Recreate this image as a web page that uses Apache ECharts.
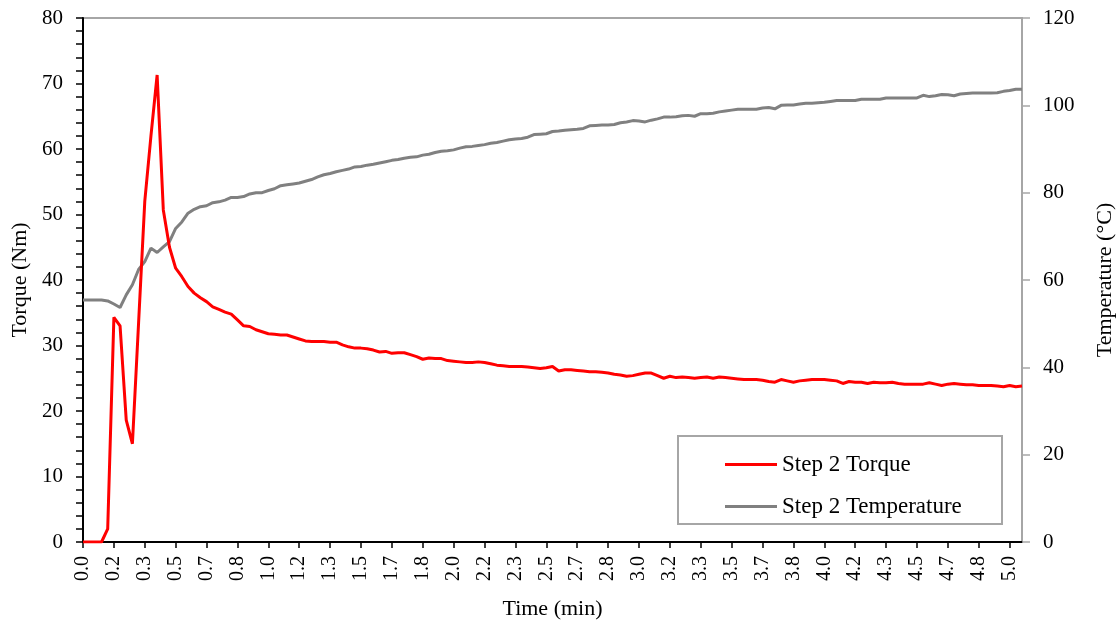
<!DOCTYPE html>
<html>
<head>
<meta charset="utf-8">
<script src="https://cdn.jsdelivr.net/npm/echarts@6/dist/echarts.min.js"></script>
<style>html,body{margin:0;padding:0;background:#fff;}#c{width:1119px;height:623px;}</style>
</head>
<body>
<div id="c"></div>
<script>
// Sample times (every 2 s), labelled in minutes with one decimal
const timeLabels = Array.from({length: 153}, (_, i) => (i / 30).toFixed(1));

const torque = [
  0, 0, 0, 0, 2, 34.3, 33.0, 18.6, 15.0, 33.5,
  52, 62, 71.3, 50.7, 45, 41.8, 40.5, 39.0, 38.0, 37.3,
  36.7, 35.9, 35.5, 35.1, 34.8, 33.9, 33.0, 32.9, 32.4, 32.1,
  31.8, 31.7, 31.6, 31.6, 31.3, 31.0, 30.7, 30.6, 30.6, 30.6,
  30.5, 30.5, 30.1, 29.8, 29.6, 29.6, 29.5, 29.3, 29.0, 29.1,
  28.8, 28.9, 28.9, 28.6, 28.3, 27.9, 28.1, 28.0, 28.0, 27.7,
  27.6, 27.5, 27.4, 27.4, 27.5, 27.4, 27.2, 27.0, 26.9, 26.8,
  26.8, 26.8, 26.7, 26.6, 26.5, 26.6, 26.8, 26.1, 26.3, 26.3,
  26.2, 26.1, 26.0, 26.0, 25.9, 25.8, 25.6, 25.5, 25.3, 25.4,
  25.6, 25.8, 25.8, 25.4, 25.0, 25.3, 25.1, 25.2, 25.1, 25.0,
  25.1, 25.2, 25.0, 25.2, 25.1, 25.0, 24.9, 24.8, 24.8, 24.8,
  24.7, 24.5, 24.4, 24.8, 24.6, 24.4, 24.6, 24.7, 24.8, 24.8,
  24.8, 24.7, 24.6, 24.2, 24.5, 24.4, 24.4, 24.2, 24.4, 24.3,
  24.3, 24.4, 24.2, 24.1, 24.1, 24.1, 24.1, 24.3, 24.1, 23.9,
  24.1, 24.2, 24.1, 24.0, 24.0, 23.9, 23.9, 23.9, 23.8, 23.7,
  23.9, 23.7, 23.8
];

const temperature = [
  55.4, 55.4, 55.4, 55.4, 55.2, 54.5, 53.7, 56.6, 58.9, 62.4,
  64.2, 67.3, 66.3, 67.6, 68.8, 71.8, 73.3, 75.3, 76.2, 76.8,
  77.0, 77.7, 77.9, 78.3, 78.9, 78.9, 79.1, 79.7, 80.0, 80.0,
  80.5, 80.9, 81.6, 81.8, 82.0, 82.2, 82.6, 83.0, 83.6, 84.1,
  84.4, 84.8, 85.1, 85.4, 85.9, 86.0, 86.3, 86.5, 86.8, 87.1,
  87.4, 87.6, 87.9, 88.1, 88.2, 88.6, 88.8, 89.2, 89.5, 89.6,
  89.8, 90.2, 90.5, 90.6, 90.8, 91.0, 91.3, 91.5, 91.8, 92.1,
  92.3, 92.4, 92.7, 93.3, 93.4, 93.5, 94.0, 94.1, 94.3, 94.4,
  94.5, 94.7, 95.3, 95.4, 95.5, 95.5, 95.6, 96.0, 96.2, 96.5,
  96.4, 96.2, 96.6, 96.9, 97.3, 97.3, 97.4, 97.6, 97.7, 97.5,
  98.1, 98.1, 98.2, 98.5, 98.7, 98.9, 99.1, 99.1, 99.1, 99.1,
  99.4, 99.5, 99.2, 100.0, 100.1, 100.1, 100.3, 100.5, 100.5, 100.6,
  100.7, 100.9, 101.1, 101.1, 101.1, 101.1, 101.4, 101.4, 101.4, 101.4,
  101.7, 101.7, 101.7, 101.7, 101.7, 101.7, 102.3, 102.0, 102.2, 102.5,
  102.4, 102.2, 102.6, 102.7, 102.8, 102.8, 102.8, 102.8, 102.9, 103.2,
  103.4, 103.7, 103.7
];

const seriesNames = ['Step 2 Torque', 'Step 2 Temperature'];

const FONT = 'Liberation Serif, Times New Roman, serif';
const chart = echarts.init(document.getElementById('c'), null, {renderer: 'canvas'});
chart.setOption({
  animation: false,
  backgroundColor: '#fff',
  textStyle: {fontFamily: FONT, color: '#000'},
  grid: {left: 83, right: 97, top: 18, bottom: 81, containLabel: false, outerBoundsMode: 'none',
         show: true, borderColor: '#a6a6a6', borderWidth: 2, backgroundColor: 'transparent'},
  graphic: [{
    type: 'rect', left: 677, top: 435, z: 10,
    shape: {width: 324, height: 88},
    style: {fill: '#fff', stroke: '#a6a6a6', lineWidth: 2}
  }],
  legend: {
    orient: 'vertical', left: 720, top: 448, z: 20,
    icon: 'rect', itemWidth: 52, itemHeight: 3, itemGap: 19,
    textStyle: {fontFamily: FONT, fontSize: 23, color: '#000', lineHeight: 23},
    data: seriesNames
  },
  xAxis: {
    type: 'category', data: timeLabels, boundaryGap: false,
    name: 'Time (min)', nameLocation: 'middle', nameGap: 56,
    nameTextStyle: {fontFamily: FONT, fontSize: 22, color: '#000'},
    axisLine: {lineStyle: {color: '#000', width: 2}},
    axisTick: {interval: 4, length: 6, lineStyle: {color: '#000', width: 1.5}},
    axisLabel: {interval: 4, rotate: 90, margin: 14, fontFamily: FONT, fontSize: 20, color: '#000'},
    splitLine: {show: false}
  },
  yAxis: [{
    type: 'value', min: 0, max: 80, interval: 10, position: 'left',
    name: 'Torque (Nm)', nameLocation: 'middle', nameGap: 52, nameRotate: 90,
    nameTextStyle: {fontFamily: FONT, fontSize: 22, color: '#000'},
    axisLine: {show: true, lineStyle: {color: '#000', width: 2}},
    axisTick: {show: true, length: 7, lineStyle: {color: '#000', width: 1.5}},
    minorTick: {show: true, splitNumber: 5, length: 7, lineStyle: {color: '#000', width: 1.5}},
    axisLabel: {margin: 20, fontFamily: FONT, fontSize: 21, color: '#000'},
    splitLine: {show: false}
  }, {
    type: 'value', min: 0, max: 120, interval: 20, position: 'right',
    name: 'Temperature (°C)', nameLocation: 'middle', nameGap: 72, nameRotate: 90,
    nameTextStyle: {fontFamily: FONT, fontSize: 22, color: '#000'},
    axisLine: {show: true, lineStyle: {color: '#a6a6a6', width: 2}},
    axisTick: {show: true, length: 8, lineStyle: {color: '#a6a6a6', width: 1.5}},
    axisLabel: {margin: 21, fontFamily: FONT, fontSize: 21, color: '#000'},
    splitLine: {show: false}
  }],
  series: [{
    name: seriesNames[0], type: 'line', data: torque, yAxisIndex: 0,
    symbol: 'none', smooth: false, z: 3,
    lineStyle: {color: '#ff0000', width: 3}, itemStyle: {color: '#ff0000'}
  }, {
    name: seriesNames[1], type: 'line', data: temperature, yAxisIndex: 1,
    symbol: 'none', smooth: false, z: 2,
    lineStyle: {color: '#808080', width: 3}, itemStyle: {color: '#808080'}
  }]
});
</script>
</body>
</html>
